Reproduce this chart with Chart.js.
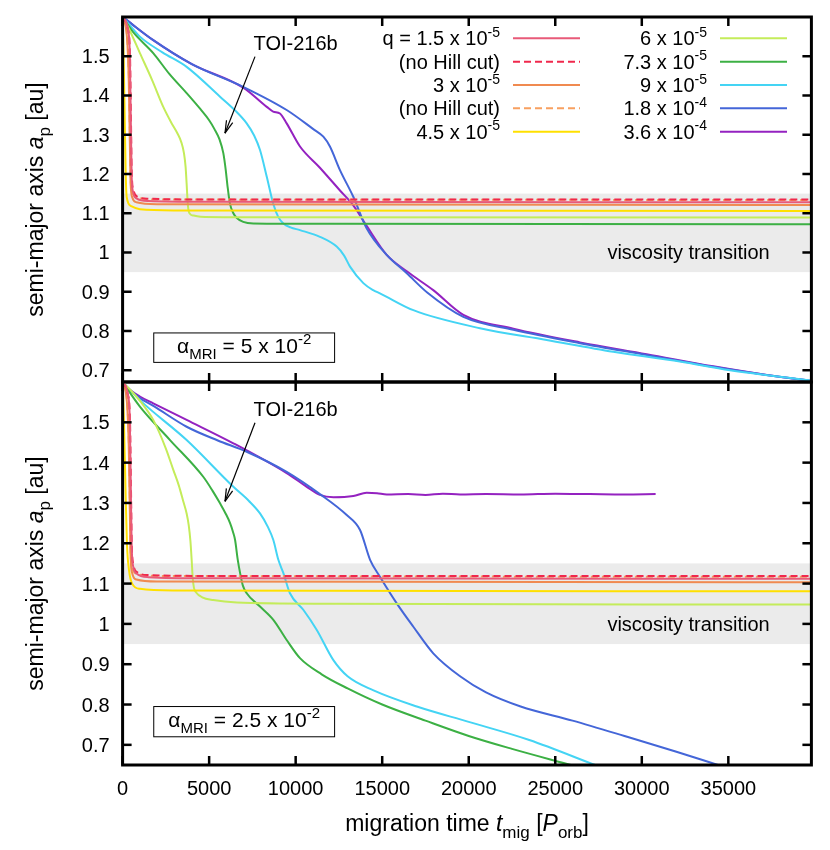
<!DOCTYPE html>
<html>
<head>
<title>Migration time</title>
<script src="https://cdn.jsdelivr.net/npm/chart.js"></script>
<style>
  body { margin: 0; background: #fff; }
  #wrap { position: relative; width: 830px; height: 850px; }
  #topChart { position: absolute; left: 0; top: 0; }
  #botChart { position: absolute; left: 0; top: 370px; }
</style>
</head>
<body>
<div id="wrap">
  <canvas id="topChart" width="830" height="400"></canvas>
  <canvas id="botChart" width="830" height="480"></canvas>
</div>
<script>
// axes
const timeRange = [0, 39800];
const topRange = [0.67, 1.6];
const botRange = [0.65, 1.6];
const xTicks = [0, 5000, 10000, 15000, 20000, 25000, 30000, 35000];
const yTicks = [0.7, 0.8, 0.9, 1.0, 1.1, 1.2, 1.3, 1.4, 1.5];
const bandRange = [0.95, 1.15];

// legend: mass ratio q
const legendMant = ['q = 1.5', '(no Hill cut)', '3', '(no Hill cut)', '4.5', '6', '7.3', '9', '1.8', '3.6'];
const legendExp = ['-5', '', '-5', '', '-5', '-5', '-5', '-5', '-4', '-4'];

// top panel, alpha_MRI = 5e-2  ([t_mig, a_p])
const topQ15 = [[0,1.6],[300,1.57],[420,1.5],[470,1.35],[520,1.2],[600,1.155],[800,1.138],[1500,1.131],[5000,1.129],[39800,1.128]];
const topQ15nh = [[0,1.6],[300,1.57],[430,1.5],[480,1.35],[530,1.2],[620,1.16],[850,1.142],[1500,1.137],[5000,1.135],[39800,1.135]];
const topQ3 = [[0,1.6],[250,1.55],[350,1.45],[410,1.3],[460,1.18],[560,1.14],[800,1.128],[2000,1.123],[39800,1.121]];
const topQ3nh = [[0,1.6],[260,1.55],[360,1.45],[420,1.3],[470,1.18],[580,1.15],[850,1.14],[2000,1.135],[39800,1.134]];
const topQ45 = [[0,1.6],[60,1.5],[120,1.35],[180,1.2],[240,1.14],[500,1.118],[1000,1.11],[3000,1.107],[39800,1.106]];
const topQ6 = [[0,1.6],[400,1.567],[1000,1.508],[1700,1.44],[2350,1.371],[2800,1.332],[3150,1.305],[3400,1.28],[3550,1.252],[3640,1.218],[3700,1.175],[3750,1.135],[3800,1.11],[3900,1.098],[4100,1.094],[4500,1.091],[6000,1.09],[39800,1.089]];
const topQ73 = [[0,1.6],[600,1.562],[1770,1.508],[2700,1.455],[3700,1.406],[4500,1.365],[5000,1.337],[5300,1.315],[5600,1.288],[5820,1.253],[5960,1.21],[6060,1.17],[6200,1.125],[6400,1.1],[6600,1.088],[6970,1.078],[7550,1.074],[12000,1.073],[39800,1.072]];
const topQ9 = [[0,1.6],[300,1.585],[1000,1.55],[2300,1.51],[3700,1.473],[5630,1.397],[6500,1.362],[7170,1.329],[7600,1.298],[7940,1.261],[8330,1.193],[8700,1.125],[9000,1.09],[9290,1.074],[9700,1.064],[10250,1.057],[11400,1.04],[12370,1.015],[12800,0.992],[13140,0.964],[13910,0.922],[14480,0.904],[14870,0.896],[16800,0.853],[20650,0.807],[24500,0.777],[28350,0.747],[32200,0.722],[35090,0.7],[39800,0.674]];
const topQ18 = [[0,1.6],[240,1.592],[1770,1.541],[4000,1.48],[6970,1.422],[9480,1.363],[11000,1.315],[11600,1.295],[11980,1.27],[12560,1.21],[13330,1.142],[14100,1.062],[15260,0.994],[16420,0.947],[17600,0.898],[19690,0.836],[22580,0.803],[26430,0.769],[30280,0.739],[34130,0.709],[37220,0.688],[39800,0.673]];
const topQ36 = [[0,1.6],[240,1.592],[1770,1.541],[4000,1.48],[6970,1.42],[8330,1.371],[8700,1.359],[9090,1.354],[9480,1.329],[10250,1.27],[11400,1.216],[12560,1.158],[13330,1.12],[14100,1.068],[15260,0.994],[16420,0.952],[17950,0.904],[19690,0.841],[22580,0.806],[26430,0.771],[30280,0.741],[34130,0.71],[37220,0.688],[39800,0.673]];

// bottom panel, alpha_MRI = 2.5e-2
const botQ15 = [[0,1.6],[300,1.57],[420,1.5],[470,1.35],[520,1.2],[600,1.145],[800,1.125],[1500,1.116],[5000,1.113],[39800,1.112]];
const botQ15nh = [[0,1.6],[300,1.57],[430,1.5],[480,1.35],[530,1.2],[620,1.148],[850,1.128],[1500,1.121],[5000,1.119],[39800,1.119]];
const botQ3 = [[0,1.6],[250,1.55],[350,1.45],[410,1.3],[460,1.17],[560,1.125],[800,1.11],[2000,1.105],[39800,1.103]];
const botQ3nh = [[0,1.6],[260,1.55],[360,1.45],[420,1.3],[470,1.17],[580,1.135],[850,1.124],[2000,1.119],[39800,1.117]];
const botQ45 = [[0,1.6],[80,1.5],[160,1.35],[250,1.2],[380,1.13],[550,1.1],[1000,1.087],[3000,1.083],[39800,1.081]];
const botQ6 = [[0,1.6],[500,1.578],[1100,1.548],[1770,1.506],[2500,1.435],[2930,1.382],[3250,1.343],[3500,1.305],[3700,1.274],[3820,1.245],[3920,1.205],[3990,1.159],[4050,1.115],[4120,1.09],[4250,1.078],[4600,1.066],[5240,1.059],[6600,1.053],[12000,1.05],[39800,1.048]];
const botQ73 = [[0,1.6],[1000,1.539],[2740,1.456],[4660,1.365],[5200,1.33],[5630,1.299],[5950,1.274],[6210,1.25],[6380,1.228],[6500,1.208],[6650,1.16],[6790,1.126],[6950,1.095],[7170,1.076],[7940,1.043],[8710,1.01],[9480,0.96],[10250,0.915],[11500,0.875],[13000,0.84],[15000,0.8],[17500,0.76],[20000,0.722],[22500,0.69],[25900,0.65]];
const botQ9 = [[0,1.6],[1000,1.555],[3700,1.456],[6400,1.34],[7300,1.305],[7940,1.274],[8400,1.24],[8710,1.208],[9000,1.159],[9290,1.126],[9670,1.076],[10440,1.035],[11220,0.985],[12180,0.91],[13000,0.87],[14500,0.835],[17000,0.795],[20000,0.757],[23500,0.712],[27300,0.65]];
const botQ18 = [[0,1.6],[300,1.585],[1000,1.56],[1800,1.54],[3700,1.489],[5500,1.455],[7170,1.427],[9480,1.377],[11400,1.322],[12950,1.27],[13720,1.233],[14300,1.159],[14870,1.117],[15840,1.051],[16800,0.993],[17950,0.927],[19500,0.87],[21000,0.83],[23000,0.795],[26000,0.76],[29000,0.722],[32000,0.683],[34400,0.65]];
const botQ36 = [[0,1.6],[300,1.585],[1000,1.564],[1770,1.547],[3700,1.506],[6400,1.448],[9480,1.374],[10640,1.34],[11400,1.32],[12180,1.314],[13330,1.317],[14100,1.325],[14700,1.324],[15260,1.321],[16500,1.322],[17500,1.32],[18500,1.323],[19500,1.321],[21000,1.322],[23000,1.321],[25000,1.323],[27000,1.322],[29000,1.321],[30800,1.322]];

const colors = ['#e85a78', '#f0284c', '#f08a50', '#f8a060', '#ffe000', '#c4ec5a', '#3cb044', '#44d4f4', '#4466d8', '#9422c0'];
const dashed = [false, true, false, true, false, false, false, false, false, false];

const FAM = '"Liberation Sans", Arial, Helvetica, sans-serif';
const FS = 20;

function fontFor(s, size) {
    const sz = (s === 'sub' || s === 'sup') ? Math.round(size * 0.72) : size;
    return (s === 'i' ? 'italic ' : '') + sz + 'px ' + FAM;
}

// draws text pieces with sub/superscripts, y is the baseline
function rich(ctx, parts, x, y, align, size) {
    size = size || FS;
    let w = 0;
    parts.forEach(([t, s]) => { ctx.font = fontFor(s, size); w += ctx.measureText(t).width; });
    let cx = align === 'center' ? x - w / 2 : align === 'right' ? x - w : x;
    ctx.textAlign = 'left';
    ctx.textBaseline = 'alphabetic';
    parts.forEach(([t, s]) => {
        ctx.font = fontFor(s, size);
        const dy = s === 'sub' ? size * 0.3 : s === 'sup' ? -size * 0.42 : 0;
        ctx.fillText(t, cx, y + dy);
        cx += ctx.measureText(t).width;
    });
    return w;
}

function line(ctx, x0, y0, x1, y1) {
    ctx.beginPath(); ctx.moveTo(x0, y0); ctx.lineTo(x1, y1); ctx.stroke();
}

function makeDatasets(series) {
    return series.map((pts, i) => ({
        label: legendMant[i],
        data: pts.map(p => ({ x: p[0], y: p[1] })),
        borderColor: colors[i],
        borderWidth: 2,
        borderDash: dashed[i] ? [7, 4] : [],
        pointRadius: 0,
        cubicInterpolationMode: 'monotone',
        fill: false
    }));
}

function decor(cfg) {
    return {
        id: 'decor',
        beforeDatasetsDraw(chart) {
            const { ctx, chartArea: a, scales: { y } } = chart;
            const yt = y.getPixelForValue(bandRange[1]), yb = y.getPixelForValue(bandRange[0]);
            ctx.save();
            ctx.fillStyle = '#ebebeb';
            ctx.fillRect(a.left, yt, a.right - a.left, yb - yt);
            ctx.restore();
        },
        afterDatasetsDraw(chart) {
            const { ctx, chartArea: a, scales: { x, y } } = chart;
            ctx.save();
            ctx.fillStyle = '#000';
            ctx.strokeStyle = '#000';

            // viscosity label
            rich(ctx, [['viscosity transition', '']], x.getPixelForValue(32700), y.getPixelForValue(1.0) + 7, 'center');

            // TOI-216b arrow
            rich(ctx, [['TOI-216b', '']], x.getPixelForValue(10000), y.getPixelForValue(1.533) + 7, 'center');
            const ax0 = x.getPixelForValue(7650), ay0 = y.getPixelForValue(1.499);
            const ax1 = x.getPixelForValue(5917), ay1 = y.getPixelForValue(1.304);
            ctx.lineWidth = 1.2;
            line(ctx, ax0, ay0, ax1, ay1);
            const ang = Math.atan2(ay1 - ay0, ax1 - ax0);
            [0.26, -0.26].forEach(d => {
                line(ctx, ax1, ay1, ax1 - 13 * Math.cos(ang + d), ay1 - 13 * Math.sin(ang + d));
            });

            // alpha box
            const bx0 = x.getPixelForValue(1800), bx1 = x.getPixelForValue(12250);
            const by0 = y.getPixelForValue(0.795), by1 = y.getPixelForValue(0.72);
            ctx.fillStyle = '#fff';
            ctx.fillRect(bx0, by0, bx1 - bx0, by1 - by0);
            ctx.lineWidth = 1;
            ctx.strokeRect(bx0, by0, bx1 - bx0, by1 - by0);
            ctx.fillStyle = '#000';
            rich(ctx, [['\u03b1', ''], ['MRI', 'sub'], [' = ' + cfg.alpha + ' x 10', ''], ['-2', 'sup']],
                (bx0 + bx1) / 2, (by0 + by1) / 2 + 5, 'center', 21);

            // legend
            if (cfg.legend) {
                legendMant.forEach((m, i) => {
                    const col = i < 5 ? 0 : 1, row = i % 5;
                    const ty = a.top + 21.3 + row * 23.35;
                    const tr = a.left + (col ? 584.4 : 377.4);
                    const parts = legendExp[i] ? [[m + ' x 10', ''], [legendExp[i], 'sup']] : [[m, '']];
                    rich(ctx, parts, tr, ty + 7, 'right');
                    ctx.strokeStyle = colors[i];
                    ctx.lineWidth = 2;
                    ctx.setLineDash(dashed[i] ? [7, 4] : []);
                    line(ctx, tr + 13, ty, tr + 80, ty);
                    ctx.setLineDash([]);
                });
                ctx.strokeStyle = '#000';
            }

            // frame and inward ticks
            ctx.lineWidth = 3;
            ctx.strokeRect(a.left, a.top, a.right - a.left, a.bottom - a.top);
            ctx.lineWidth = 2.5;
            xTicks.forEach(v => {
                const px = x.getPixelForValue(v);
                line(ctx, px, a.bottom, px, a.bottom - 9);
                line(ctx, px, a.top, px, a.top + 9);
            });
            yTicks.forEach(v => {
                const py = y.getPixelForValue(v);
                line(ctx, a.left, py, a.left + 9, py);
                line(ctx, a.right, py, a.right - 9, py);
            });

            // y tick labels
            yTicks.forEach(v => {
                rich(ctx, [[String(+v.toFixed(1)), '']], a.left - 13, y.getPixelForValue(v) + 7, 'right');
            });

            // y title
            ctx.save();
            ctx.translate(a.left - 87.6 + 8, (a.top + a.bottom) / 2);
            ctx.rotate(-Math.PI / 2);
            rich(ctx, [['semi-major axis ', ''], ['a', 'i'], ['p', 'sub'], [' [au]', '']], 0, 0, 'center', 23);
            ctx.restore();

            // x labels and title
            if (cfg.xlabels) {
                xTicks.forEach(v => {
                    rich(ctx, [[String(v), '']], x.getPixelForValue(v), a.bottom + 30, 'center');
                });
                rich(ctx, [['migration time ', ''], ['t', 'i'], ['mig', 'sub'], [' [', ''], ['P', 'i'], ['orb', 'sub'], [']', '']],
                    (a.left + a.right) / 2, a.bottom + 66, 'center', 23);
            }
            ctx.restore();
        }
    };
}

function makeChart(id, series, range, pad, cfg) {
    return new Chart(document.getElementById(id), {
        type: 'line',
        data: { datasets: makeDatasets(series) },
        options: {
            responsive: false,
            animation: false,
            layout: { padding: pad },
            plugins: { legend: { display: false }, tooltip: { enabled: false } },
            scales: {
                x: {
                    type: 'linear', min: timeRange[0], max: timeRange[1],
                    ticks: { display: false }, grid: { display: false }, border: { display: false },
                    afterFit: s => { s.height = 0; }
                },
                y: {
                    type: 'linear', min: range[0], max: range[1],
                    ticks: { display: false }, grid: { display: false }, border: { display: false },
                    afterFit: s => { s.width = 0; }
                }
            }
        },
        plugins: [decor(cfg)]
    });
}

makeChart('topChart',
    [topQ15, topQ15nh, topQ3, topQ3nh, topQ45, topQ6, topQ73, topQ9, topQ18, topQ36],
    topRange, { left: 122.6, right: 18.6, top: 17, bottom: 18 },
    { legend: true, xlabels: false, alpha: '5' });

makeChart('botChart',
    [botQ15, botQ15nh, botQ3, botQ3nh, botQ45, botQ6, botQ73, botQ9, botQ18, botQ36],
    botRange, { left: 122.6, right: 18.6, top: 12, bottom: 85 },
    { legend: false, xlabels: true, alpha: '2.5' });
</script>
</body>
</html>
